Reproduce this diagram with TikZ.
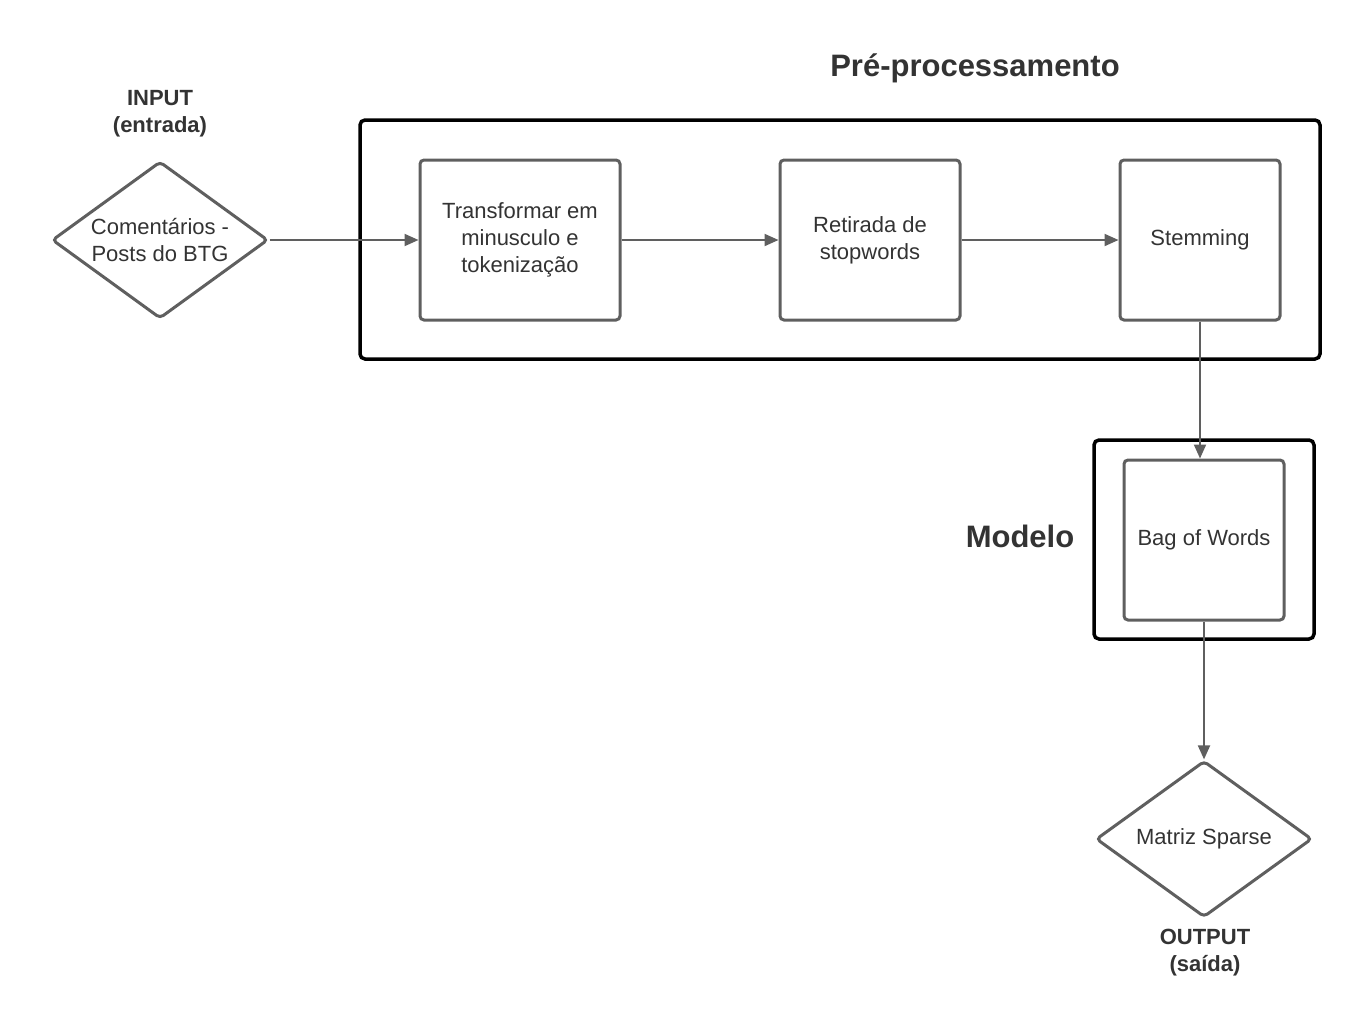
\documentclass[tikz,border=0pt]{standalone}
\usepackage{fontspec}
\setmainfont{Liberation Sans}
\usetikzlibrary{positioning,shapes.geometric,arrows.meta}
\definecolor{linegray}{RGB}{95,95,95}
\definecolor{textgray}{RGB}{51,51,51}

\begin{document}
\begin{tikzpicture}[x=0.5pt, y=-0.5pt, >={Triangle[length=7pt,width=6pt]}]
        \tikzstyle{stepbox} = [draw=linegray, line width=1.5pt, rectangle, rounded corners=2pt, minimum width=100pt, minimum height=80pt, align=center, text=textgray, font=\fontsize{11}{13.5}\selectfont]
        \tikzstyle{frame} = [draw=black, line width=1.75pt, rectangle, rounded corners=2.5pt]
        \tikzstyle{io} = [draw=linegray, line width=1.5pt, diamond, rounded corners=2pt, inner sep=0pt, align=center, text=textgray, font=\fontsize{11}{13.5}\selectfont]
        \tikzstyle{caption} = [text=textgray, align=center, font=\bfseries\fontsize{11}{13.5}\selectfont]
        \tikzstyle{heading} = [text=textgray, font=\bfseries\fontsize{15.5}{18}\selectfont]
        \tikzstyle{flow} = [draw=linegray, line width=1pt, ->]
        \useasboundingbox (0,0) rectangle (1360,1023);
        % frames
        \node (preproc) [frame, minimum width=480pt, minimum height=119.5pt] at (840,239.5) {};
        \node (modelo) [frame, minimum width=110pt, minimum height=99.5pt] at (1204,539.5) {};
        % steps
        \node (input) [io, shape aspect=1.4, minimum width=108pt, minimum height=78.5pt] at (160,240) {Comentários -\\Posts do BTG};
        \node (lower) [stepbox] at (520,240) {Transformar em\\minusculo e\\tokenização};
        \node (stopw) [stepbox, minimum width=90pt] at (870,240) {Retirada de\\stopwords};
        \node (stem) [stepbox, minimum width=80pt] at (1200,240) {Stemming};
        \node (bow) [stepbox, minimum width=80pt] at (1204,540) {Bag of Words};
        \node (output) [io, minimum width=108pt, minimum height=78pt] at (1204,839) {Matriz Sparse};
        % labels
        \node (title) [heading] at (975,68) {Pré-processamento};
        \node (modlabel) [heading] at (1020,536) {Modelo};
        \node (inlabel) [caption] at (160,114) {INPUT\\(entrada)};
        \node (outlabel) [caption] at (1205,953) {OUTPUT\\(saída)};
        % connectors
        \draw[flow] (input) -- (lower);
        \draw[flow] (lower) -- (stopw);
        \draw[flow] (stopw) -- (stem);
        \draw[flow] (stem.south) -- (stem.south |- bow.north);
        \draw[flow] (bow) -- (output);
\end{tikzpicture}
\end{document}
